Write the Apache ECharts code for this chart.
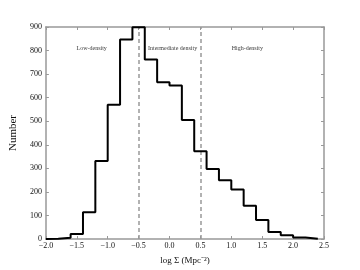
<!DOCTYPE html>
<html>
<head>
<meta charset="utf-8">
<script src="https://cdn.jsdelivr.net/npm/echarts@6/dist/echarts.min.js"></script>
<style>html,body{margin:0;padding:0;background:#fff}#c{width:360px;height:270px}</style>
</head>
<body>
<div id="c"></div>
<script>
// Histogram: left bin edges (log Σ), bin width 0.2
var binEdges = [-2.0,-1.8,-1.6,-1.4,-1.2,-1.0,-0.8,-0.6,-0.4,-0.2,0.0,0.2,0.4,0.6,0.8,1.0,1.2,1.4,1.6,1.8,2.0,2.2];
var counts   = [1,5,21,114,331,570,847,899,762,665,652,505,372,297,249,210,141,81,30,16,6,1];
var binWidth = 0.2;
var dividers = [-0.5, 0.5];
var regionLabels = ['Low-density', 'Intermediate density', 'High-density'];
var regionLabelX = [-1.26, 0.05, 1.26];
var regionLabelY = 808;

var stepData = [[binEdges[0], 0]];
for (var i = 0; i < binEdges.length; i++) stepData.push([binEdges[i], counts[i]]);
var lastEdge = binEdges[binEdges.length - 1] + binWidth;
stepData.push([lastEdge, counts[counts.length - 1]]);
stepData.push([lastEdge, 0]);

var labelData = regionLabels.map(function (t, i) { return { value: [regionLabelX[i], regionLabelY], name: t }; });

var font = 'Liberation Serif';
var frameLine = { show: true, onZero: false, lineStyle: { color: '#999', width: 1.5 } };
var tick = { show: true, inside: true, length: 3, lineStyle: { color: '#999', width: 1 } };
function fmtX(v) { var s = v.toFixed(1); return v < 0 ? '\u2212' + s.slice(1) : s; }

var chart = echarts.init(document.getElementById('c'), null, { renderer: 'canvas' });
chart.setOption({
  animation: false,
  grid: { left: 45, right: 36, top: 27, bottom: 28, containLabel: false },
  xAxis: [{
    type: 'value', min: -2, max: 2.5, interval: 0.5,
    axisLine: frameLine, splitLine: { show: false }, axisTick: tick,
    axisLabel: { formatter: fmtX, fontFamily: font, fontSize: 8, color: '#111', margin: 3 },
    name: 'log \u03A3 (Mpc\u207B\u00B2)', nameLocation: 'middle', nameGap: 17,
    nameTextStyle: { fontFamily: font, fontSize: 9, color: '#111' }
  }, {
    type: 'value', position: 'top', min: -2, max: 2.5, interval: 0.5,
    axisLine: frameLine, splitLine: { show: false }, axisTick: tick,
    axisLabel: { show: false }
  }],
  yAxis: [{
    type: 'value', min: 0, max: 900, interval: 100,
    axisLine: frameLine, splitLine: { show: false }, axisTick: tick,
    axisLabel: { fontFamily: font, fontSize: 8, color: '#111', margin: 4 },
    name: 'Number', nameLocation: 'middle', nameGap: 24,
    nameTextStyle: { fontFamily: font, fontSize: 11, color: '#111' }
  }, {
    type: 'value', position: 'right', min: 0, max: 900, interval: 100,
    axisLine: frameLine, splitLine: { show: false }, axisTick: tick,
    axisLabel: { show: false }
  }],
  series: [{
    type: 'line', step: 'end', data: stepData, showSymbol: false, symbol: 'none',
    lineStyle: { color: '#000', width: 2 }, z: 5,
    markLine: {
      symbol: 'none', silent: true, label: { show: false },
      lineStyle: { color: '#999', type: [4, 3], width: 1.5 },
      data: dividers.map(function (d) { return { xAxis: d }; })
    }
  }, {
    type: 'scatter', data: labelData, symbolSize: 0, silent: true,
    label: { show: true, position: 'inside', formatter: function (p) { return p.name; },
      fontFamily: font, fontSize: 6, color: '#000' }
  }]
});
</script>
</body>
</html>
